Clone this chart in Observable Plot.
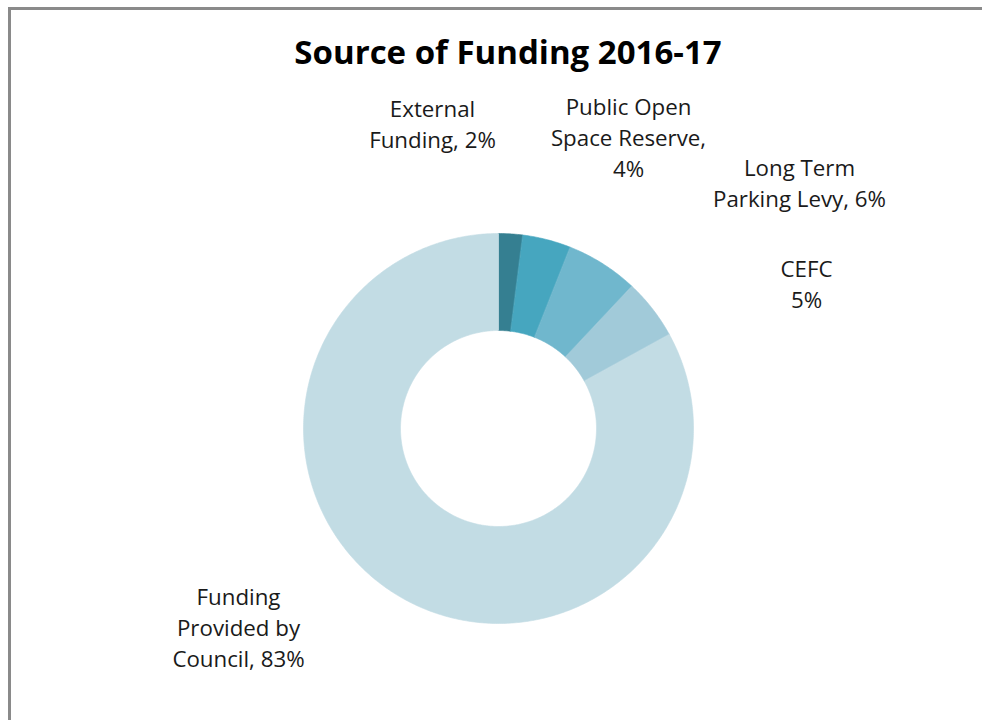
<!DOCTYPE html>
<html><head><meta charset="utf-8">
<script src="https://cdn.jsdelivr.net/npm/d3@7"></script>
<script src="https://cdn.jsdelivr.net/npm/@observablehq/plot@0.6"></script>
<style>
body{margin:0;background:#fff;}
#wrap{position:relative;width:982px;height:720px;overflow:hidden;}
#frame{position:absolute;left:8px;top:7px;width:990px;height:730px;border-left:3px solid #8a8a8a;border-top:3px solid #8a8a8a;box-sizing:border-box;}
#title{position:absolute;left:0;width:1016px;top:30px;text-align:center;font-family:"Open Sans";font-weight:bold;font-size:33px;line-height:44px;color:#000;}
#chart{position:absolute;left:0;top:0;}
</style></head><body>
<div id="wrap"><div id="frame"></div><div id="chart"></div><div id="title">Source of Funding 2016-17</div></div>
<script>
const categories = ["External Funding","Public Open Space Reserve","Long Term Parking Levy","CEFC","Funding Provided by Council"];
const values = [2, 4, 6, 5, 83];
const labelTexts = ["External\nFunding, 2%","Public Open\nSpace Reserve,\n4%","Long Term\nParking Levy, 6%","CEFC\n5%","Funding\nProvided by\nCouncil, 83%"];
const colors = ["#357f91","#46a6bf","#70b7cd","#a1cad9","#c2dce4"];

// layout (pixels relative to donut centre, y up)
const R = 195, r0 = 98;
const labelAnchors = [[-66,306],[130,292],[301,247],[308,146],[-260,-198]];

const total = d3.sum(values);
const pts = [];
let acc = 0;
categories.forEach((name,i)=>{
  const a0 = acc/total*2*Math.PI, a1 = (acc+values[i])/total*2*Math.PI;
  acc += values[i];
  const n = Math.max(4, Math.ceil((a1-a0)/0.01));
  for(let k=0;k<=n;k++){const a=a0+(a1-a0)*k/n; pts.push({name,x:R*Math.sin(a),y:R*Math.cos(a)});}
  for(let k=n;k>=0;k--){const a=a0+(a1-a0)*k/n; pts.push({name,x:r0*Math.sin(a),y:r0*Math.cos(a)});}
});
const labels = categories.map((name,i)=>({name,text:labelTexts[i],x:labelAnchors[i][0],y:labelAnchors[i][1]}));

const chart = Plot.plot({
  width:982, height:720, margin:0,
  x:{domain:[-498,484], axis:null},
  y:{domain:[-292,428], axis:null},
  color:{domain:categories, range:colors},
  marks:[
    Plot.line(pts,{x:"x",y:"y",z:"name",fill:"name",stroke:"name",strokeWidth:0.6,curve:"linear-closed"}),
    Plot.text(labels,{x:"x",y:"y",text:"text",textAnchor:"middle",lineAnchor:"middle",lineHeight:1.39,fontSize:22.3,fill:"#1a1a1a",fontFamily:"Open Sans"})
  ],
  style:{background:"transparent",fontFamily:"Open Sans"}
});
document.getElementById("chart").appendChild(chart);
</script>
</body></html>
